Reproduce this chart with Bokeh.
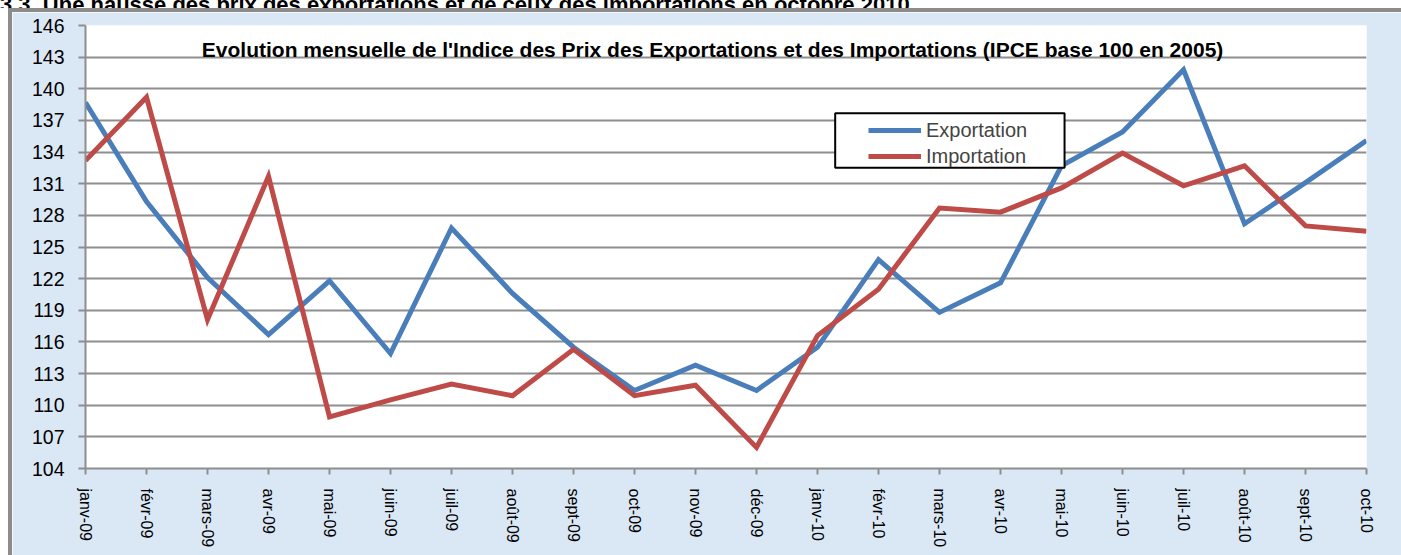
import math
from bokeh.plotting import figure
from bokeh.layouts import column
from bokeh.models import (FixedTicker, Legend, LegendItem, BoxAnnotation, Label, Range1d, Div)
from bokeh.embed import file_html
from bokeh.resources import INLINE

months = ["janv-09", "févr-09", "mars-09", "avr-09", "mai-09", "juin-09", "juil-09",
          "août-09", "sept-09", "oct-09", "nov-09", "déc-09", "janv-10", "févr-10",
          "mars-10", "avr-10", "mai-10", "juin-10", "juil-10", "août-10", "sept-10", "oct-10"]
exportation = [138.7, 129.3, 122.1, 116.7, 121.8, 114.9, 126.8, 120.6, 115.5, 111.4, 113.8,
               111.4, 115.5, 123.8, 118.8, 121.6, 132.7, 135.9, 141.8, 127.2, 131.1, 135.1]
importation = [133.2, 139.2, 118.1, 131.7, 108.9, 110.5, 112.0, 110.9, 115.3, 110.9, 111.9,
               106.0, 116.6, 121.0, 128.7, 128.3, 130.6, 133.9, 130.8, 132.7, 127.0, 126.5]
y_ticks = list(range(104, 147, 3))
title_text = "Evolution mensuelle de l'Indice des Prix des Exportations et des Importations (IPCE base 100 en 2005)"
header_text = "3.3. Une hausse des prix des exportations et  de ceux des importations en octobre 2010"

FONT = "Liberation Sans"
BG = "#dae7f4"
GRID = "#8e8e8e"

x = list(range(len(months)))

p = figure(frame_width=1277, frame_height=439,
           min_border_left=73, min_border_right=39, min_border_top=13, min_border_bottom=91,
           x_range=Range1d(0, len(months) - 1), y_range=Range1d(104, 146),
           output_backend="svg", toolbar_location=None, margin=0)
p.styles = {"margin-left": "8px", "border-left": "4px solid #8c8c8c",
            "border-top": "4px solid #8c8c8c"}

p.background_fill_color = "white"
p.border_fill_color = BG
p.outline_line_color = None

# axes
p.xaxis.ticker = FixedTicker(ticks=x)
p.xaxis.major_label_overrides = {i: m for i, m in enumerate(months)}
p.xaxis.major_label_orientation = -math.pi / 2
p.xaxis.major_label_text_font = FONT
p.xaxis.major_label_text_font_size = "16px"
p.xaxis.major_label_text_color = "black"
p.xaxis.major_label_standoff = 14
p.xaxis.major_tick_out = 6
p.xaxis.major_tick_in = 0
p.xaxis.minor_tick_line_color = None
p.xaxis.axis_line_color = GRID
p.xaxis.axis_line_width = 2
p.xaxis.major_tick_line_color = GRID
p.xaxis.major_tick_line_width = 2

p.yaxis.ticker = FixedTicker(ticks=y_ticks)
p.yaxis.major_label_text_font = FONT
p.yaxis.major_label_text_font_size = "19.5px"
p.yaxis.major_label_text_color = "black"
p.yaxis.major_label_standoff = 14
p.yaxis.major_tick_out = 7
p.yaxis.major_tick_in = 0
p.yaxis.minor_tick_line_color = None
p.yaxis.axis_line_color = GRID
p.yaxis.axis_line_width = 2
p.yaxis.major_tick_line_color = GRID
p.yaxis.major_tick_line_width = 2

p.xgrid.grid_line_color = None
p.ygrid.grid_line_color = GRID
p.ygrid.grid_line_width = 2

r_exp = p.line(x, exportation, line_color="#4a7ebb", line_width=5, line_join="miter")
r_imp = p.line(x, importation, line_color="#be4b48", line_width=5, line_join="miter")

# title inside plot area
p.add_layout(Label(x=10.28, y=143.77, text=title_text, text_font=FONT, text_font_size="21px",
                   text_font_style="bold", text_align="center", text_baseline="alphabetic",
                   text_color="black"))

# legend box
p.add_layout(BoxAnnotation(left=12.29, right=16.05, top=137.67, bottom=132.51,
                           fill_color="white", fill_alpha=1.0, line_color="black",
                           line_alpha=1.0, line_width=2))

legend = Legend(items=[LegendItem(label="Exportation", renderers=[r_exp]),
                       LegendItem(label="Importation", renderers=[r_imp])],
                location=(783, 299), padding=0, margin=0, spacing=0,
                glyph_width=53, glyph_height=26, label_height=26, label_standoff=5,
                label_text_font=FONT, label_text_font_size="20px",
                border_line_alpha=0, background_fill_alpha=0)
p.add_layout(legend, "center")

header = Div(text=('<div style="font-family: \'Liberation Sans\'; font-weight: bold; '
                   'font-size: 22px; line-height: 22px; margin-top: -14px; '
                   'white-space: nowrap; color: black;">' + header_text + '</div>'),
             width=1401, height=8, margin=0, styles={"overflow": "hidden"})

layout = column(header, p, spacing=0, margin=0)

open("out.html", "w").write(file_html(layout, INLINE))
